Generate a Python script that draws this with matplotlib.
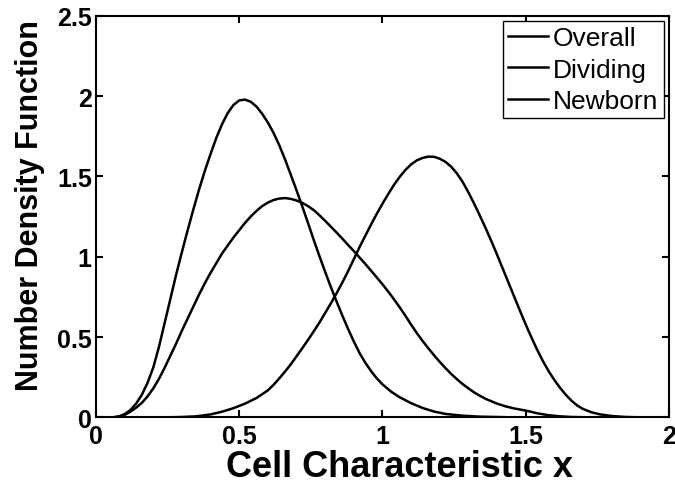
import matplotlib
matplotlib.use('Agg')
import matplotlib.pyplot as plt

plt.rcParams['font.family'] = ['Liberation Sans', 'DejaVu Sans']

# values
x_overall = [0.00, 0.06, 0.08, 0.10, 0.12, 0.14, 0.16, 0.18, 0.20, 0.22, 0.24,
             0.26, 0.28, 0.30, 0.32, 0.34, 0.36, 0.38, 0.40, 0.42, 0.44, 0.46,
             0.48, 0.50, 0.52, 0.54, 0.56, 0.58, 0.60, 0.62, 0.64, 0.66, 0.68,
             0.70, 0.72, 0.74, 0.76, 0.78, 0.80, 0.82, 0.84, 0.86, 0.88, 0.90,
             0.92, 0.94, 0.96, 0.98, 1.00, 1.02, 1.04, 1.06, 1.08, 1.10, 1.12,
             1.14, 1.16, 1.18, 1.20, 1.22, 1.24, 1.26, 1.28, 1.30, 1.32, 1.34,
             1.36, 1.38, 1.40, 1.43, 1.46, 1.50, 1.54, 1.58, 1.62, 1.66, 1.72,
             2.00]
y_overall = [0.0, 0.0, 0.005, 0.015, 0.035, 0.06, 0.09, 0.13, 0.18, 0.24, 0.31,
             0.385, 0.46, 0.54, 0.615, 0.69, 0.765, 0.835, 0.90, 0.96, 1.02, 1.07,
             1.12, 1.165, 1.21, 1.25, 1.285, 1.315, 1.337, 1.353, 1.362, 1.365, 1.36,
             1.35, 1.335, 1.315, 1.29, 1.258, 1.223, 1.187, 1.15, 1.112, 1.073, 1.035,
             0.995, 0.955, 0.913, 0.871, 0.828, 0.783, 0.735, 0.685, 0.632, 0.577, 0.524,
             0.475, 0.43, 0.386, 0.345, 0.306, 0.27, 0.237, 0.207, 0.18, 0.155, 0.134,
             0.115, 0.10, 0.085, 0.068, 0.055, 0.042, 0.025, 0.013, 0.006, 0.002, 0.0,
             0.0]

x_dividing = [0.00, 0.25, 0.30, 0.35, 0.40, 0.44, 0.48, 0.52, 0.56, 0.60, 0.62,
              0.64, 0.66, 0.68, 0.70, 0.72, 0.74, 0.76, 0.78, 0.80, 0.82, 0.84,
              0.86, 0.88, 0.90, 0.92, 0.94, 0.96, 0.98, 1.00, 1.02, 1.04, 1.06,
              1.08, 1.10, 1.12, 1.14, 1.16, 1.18, 1.20, 1.22, 1.24, 1.26, 1.28,
              1.30, 1.32, 1.34, 1.36, 1.38, 1.40, 1.42, 1.44, 1.46, 1.48, 1.50,
              1.52, 1.54, 1.56, 1.58, 1.60, 1.62, 1.64, 1.66, 1.68, 1.70, 1.73,
              1.76, 1.80, 1.85, 1.90, 2.00]
y_dividing = [0.0, 0.0, 0.002, 0.006, 0.018, 0.035, 0.057, 0.085, 0.12, 0.168, 0.203,
              0.243, 0.285, 0.33, 0.38, 0.43, 0.482, 0.535, 0.59, 0.65, 0.71, 0.773,
              0.84, 0.91, 0.985, 1.06, 1.13, 1.20, 1.267, 1.33, 1.39, 1.447, 1.497,
              1.54, 1.575, 1.60, 1.615, 1.623, 1.622, 1.61, 1.59, 1.56, 1.518, 1.465,
              1.40, 1.33, 1.255, 1.178, 1.097, 1.012, 0.925, 0.837, 0.75, 0.663, 0.578,
              0.497, 0.42, 0.35, 0.287, 0.232, 0.183, 0.14, 0.103, 0.073, 0.052, 0.031,
              0.018, 0.008, 0.002, 0.0, 0.0]

x_newborn = [0.00, 0.06, 0.08, 0.10, 0.12, 0.14, 0.16, 0.18, 0.20, 0.22, 0.24,
             0.26, 0.28, 0.30, 0.32, 0.34, 0.36, 0.38, 0.40, 0.42, 0.44, 0.46,
             0.48, 0.50, 0.52, 0.54, 0.56, 0.58, 0.60, 0.62, 0.64, 0.66, 0.68,
             0.70, 0.72, 0.74, 0.76, 0.78, 0.80, 0.82, 0.84, 0.86, 0.88, 0.90,
             0.92, 0.94, 0.96, 0.98, 1.00, 1.03, 1.06, 1.10, 1.14, 1.18, 1.22,
             1.28, 1.34, 1.45, 2.00]
y_newborn = [0.0, 0.0, 0.005, 0.02, 0.045, 0.085, 0.14, 0.215, 0.31, 0.44, 0.59,
             0.74, 0.89, 1.03, 1.165, 1.295, 1.42, 1.535, 1.64, 1.74, 1.825, 1.895,
             1.945, 1.973, 1.978, 1.965, 1.935, 1.89, 1.835, 1.77, 1.693, 1.605, 1.51,
             1.413, 1.313, 1.21, 1.105, 1.003, 0.905, 0.81, 0.72, 0.633, 0.55, 0.472,
             0.40, 0.34, 0.288, 0.243, 0.205, 0.16, 0.125, 0.088, 0.058, 0.036, 0.021,
             0.01, 0.004, 0.0, 0.0]

x_ticks = [0, 0.5, 1, 1.5, 2]
x_ticklabels = ['0', '0.5', '1', '1.5', '2']
y_ticks = [0, 0.5, 1, 1.5, 2, 2.5]
y_ticklabels = ['0', '0.5', '1', '1.5', '2', '2.5']

fig = plt.figure(figsize=(6.75, 4.85), dpi=100)
ax = fig.add_axes([0.1422, 0.1375, 0.8489, 0.8279])

ax.plot(x_overall, y_overall, color='black', lw=1.8, label='Overall')
ax.plot(x_dividing, y_dividing, color='black', lw=1.8, label='Dividing')
ax.plot(x_newborn, y_newborn, color='black', lw=1.8, label='Newborn')

ax.set_xlim(0, 2)
ax.set_ylim(0, 2.5)
ax.set_xticks(x_ticks)
ax.set_xticklabels(x_ticklabels, fontsize=18, fontweight='bold')
ax.set_yticks(y_ticks)
ax.set_yticklabels(y_ticklabels, fontsize=18, fontweight='bold')
ax.tick_params(direction='in', length=5, width=1.5, top=True, right=True)
ax.tick_params(axis='x', pad=5)
ax.tick_params(axis='y', pad=3)

for s in ax.spines.values():
    s.set_linewidth(1.5)

ax.set_xlabel('Cell Characteristic x', fontsize=26, fontweight='bold')
ax.set_ylabel('Number Density Function', fontsize=22, fontweight='bold')
ax.xaxis.set_label_coords(0.53, -0.08)
ax.yaxis.set_label_coords(-0.089, 0.529)

leg = ax.legend(loc='upper right', fontsize=19, fancybox=False, edgecolor='black',
                framealpha=1, handlelength=1.5, handletextpad=0.2, labelspacing=0.28,
                borderpad=0.2, borderaxespad=0.2)
leg.get_frame().set_linewidth(1.0)

fig.savefig('out.png', dpi=100)
